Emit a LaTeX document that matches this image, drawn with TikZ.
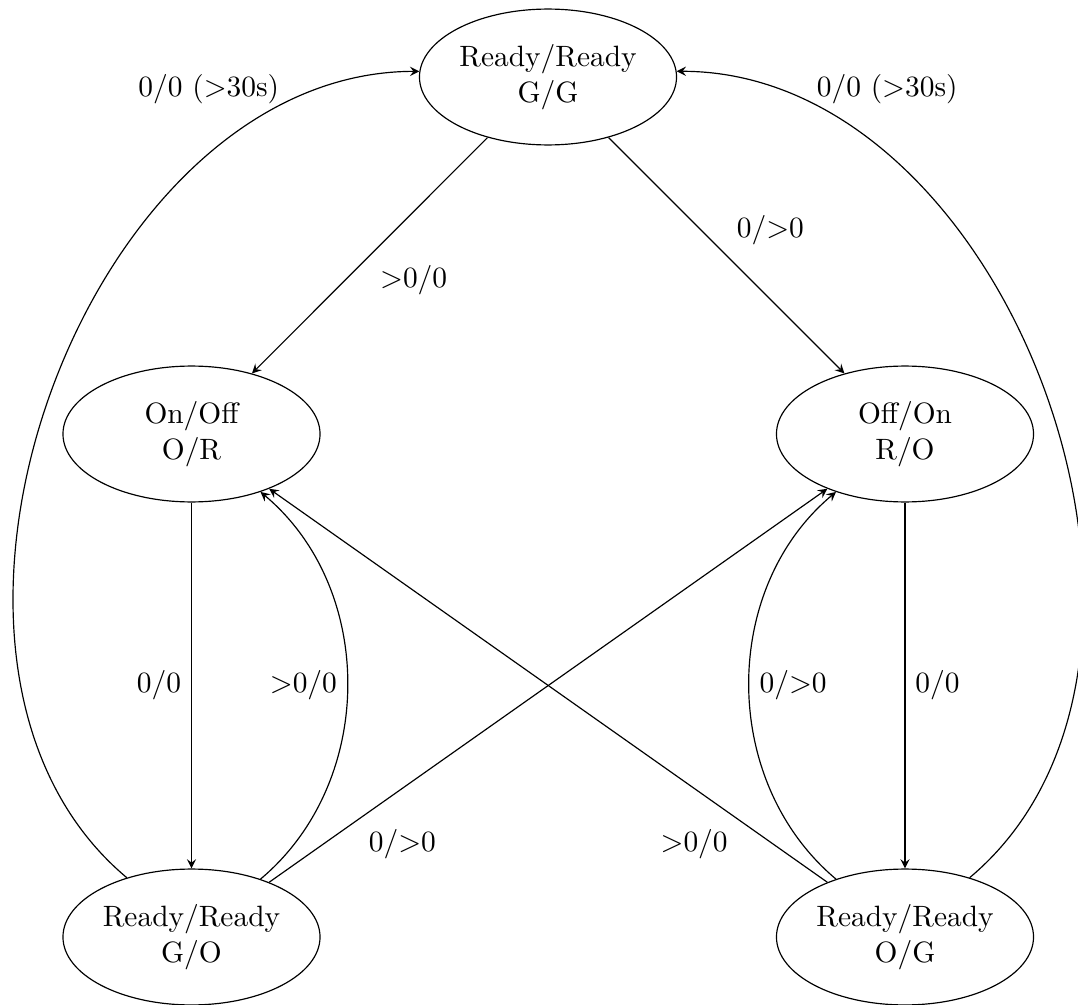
\documentclass[tikz,border=0pt]{standalone}
\usetikzlibrary{shapes.geometric}
\begin{document}
\begin{tikzpicture}[x=0.34pt,y=-0.34pt,
  state/.style={ellipse,draw,minimum width=87.4pt,minimum height=46.2pt,inner sep=0pt,align=center},
  edge/.style={-stealth}]
\useasboundingbox (0,0) rectangle (1078,1005);
\node[state] (gg) at (548,77) {Ready/Ready\\G/G};
\node[state] (or) at (191.5,434) {On/Off\\O/R};
\node[state] (ro) at (905,434) {Off/On\\R/O};
\node[state] (go) at (191.5,937) {Ready/Ready\\G/O};
\node[state] (og) at (905,937) {Ready/Ready\\O/G};

\draw[edge] (gg) -- node[below right]{$>$0/0} (or);
\draw[edge] (gg) -- node[above right]{0/$>$0} (ro);
\draw[edge] (or) -- node[left]{0/0} (go);
\draw[edge] (go) to[bend right=50] node[left]{$>$0/0} (or);
\draw[edge] (go) -- node[pos=0.16,below right]{0/$>$0} (ro);
\draw[edge] (og) -- node[pos=0.16,below left]{$>$0/0} (or);
\draw[edge] (ro) -- node[right]{0/0} (og);
\draw[edge] (og) to[bend left=50] node[right]{0/$>$0} (ro);
\draw[edge] (go) to[bend left=70] node[pos=0.85,above left,xshift=4pt,yshift=-2pt]{0/0 ($>$30s)} (gg);
\draw[edge] (og) to[bend right=70] node[pos=0.85,above right,xshift=-4pt,yshift=-2pt]{0/0 ($>$30s)} (gg);
\end{tikzpicture}
\end{document}
